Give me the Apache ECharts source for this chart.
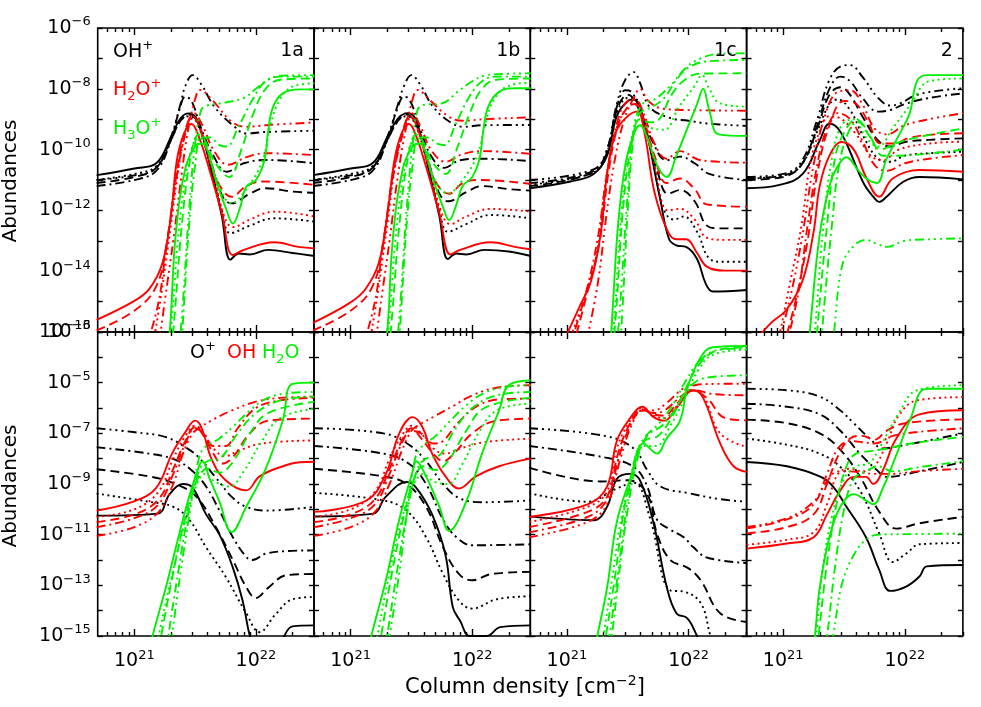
<!DOCTYPE html>
<html><head><meta charset="utf-8">
<script src="https://cdn.jsdelivr.net/npm/echarts@6/dist/echarts.min.js"></script>
<style>html,body{margin:0;padding:0;background:#fff}#c{width:981px;height:707px}</style>
</head><body><div id="c"></div>
<script>
// ---- DATA: each point is [log10(column density / cm^-2), log10(abundance)] ----
// line order inside each species array: solid, dotted, dashed, dash-dot, dash-dot-dot-dot
const panelLabels = ['1a', '1b', '1c', '2'];
const topSpecies = ['OH+', 'H2O+', 'H3O+'];
const bottomSpecies = ['O+', 'OH', 'H2O'];
const xMajorTicks = [21, 22];
const xMinorTickValues = [6e20, 7e20, 8e20, 9e20, 2e21, 3e21, 4e21, 5e21, 6e21, 7e21, 8e21, 9e21, 2e22, 3e22];
const xRangeValues = [5e20, 3e22];
const yTopRange = [-16, -6];
const yTopTicks = [-16, -15, -14, -13, -12, -11, -10, -9, -8, -7, -6];
const yTopLabels = [-16, -14, -12, -10, -8, -6];
const yBotRange = [-15, -3];
const yBotTicks = [-15, -14, -13, -12, -11, -10, -9, -8, -7, -6, -5, -4, -3];
const yBotLabels = [-15, -13, -11, -9, -7, -5, -3];

// ===== top row, panel 1a =====
const T1a_k = [
 [[20.69,-10.84],[21.0,-10.62],[21.18,-10.45],[21.3,-9.6],[21.38,-8.97],[21.45,-8.81],[21.52,-9.05],[21.64,-10.8],[21.72,-12.2],[21.79,-13.62],[21.86,-13.42],[21.95,-13.45],[22.1,-13.3],[22.3,-13.4],[22.48,-13.5]],
 [[20.69,-11.0],[21.0,-10.8],[21.18,-10.55],[21.3,-9.7],[21.38,-9.05],[21.45,-8.9],[21.52,-9.15],[21.63,-10.6],[21.72,-12.0],[21.79,-12.75],[21.95,-12.5],[22.15,-12.26],[22.48,-12.37]],
 [[20.69,-11.1],[21.0,-10.9],[21.18,-10.6],[21.3,-9.7],[21.38,-9.05],[21.45,-8.85],[21.52,-9.1],[21.63,-10.4],[21.72,-11.5],[21.8,-11.77],[21.95,-11.45],[22.08,-11.27],[22.3,-11.38],[22.48,-11.42]],
 [[20.69,-11.2],[21.0,-11.0],[21.18,-10.7],[21.3,-9.7],[21.37,-8.7],[21.42,-8.26],[21.47,-8.4],[21.55,-9.3],[21.65,-10.2],[21.76,-10.73],[21.9,-10.45],[22.08,-10.34],[22.48,-10.45]],
 [[20.69,-11.0],[21.0,-10.85],[21.18,-10.6],[21.3,-9.6],[21.38,-8.5],[21.42,-7.9],[21.48,-7.55],[21.55,-7.85],[21.66,-8.6],[21.81,-9.2],[21.92,-9.47],[22.08,-9.42],[22.48,-9.38]]
];
const T1a_r = [
 [[20.69,-15.6],[20.99,-15.0],[21.12,-14.6],[21.23,-13.75],[21.3,-12.2],[21.35,-10.35],[21.41,-9.46],[21.47,-9.16],[21.53,-9.57],[21.61,-10.56],[21.72,-12.1],[21.81,-13.47],[21.9,-13.3],[22.15,-13.05],[22.35,-13.2],[22.48,-13.25]],
 [[21.15,-16.5],[21.22,-14.8],[21.3,-12.5],[21.38,-10.2],[21.44,-9.2],[21.48,-8.97],[21.55,-9.4],[21.65,-10.8],[21.74,-12.2],[21.81,-12.55],[21.95,-12.3],[22.15,-12.04],[22.48,-12.2]],
 [[20.69,-15.95],[21.0,-15.3],[21.18,-14.5],[21.27,-13.0],[21.34,-11.0],[21.41,-9.5],[21.48,-8.9],[21.54,-9.3],[21.63,-10.5],[21.72,-11.3],[21.8,-11.55],[21.92,-11.2],[22.06,-11.05],[22.48,-11.16]],
 [[21.1,-16.5],[21.2,-15.0],[21.26,-13.3],[21.34,-11.1],[21.42,-9.46],[21.49,-8.8],[21.56,-9.2],[21.65,-10.0],[21.77,-10.5],[21.92,-10.25],[22.08,-10.12],[22.48,-10.18]],
 [[21.2,-16.5],[21.25,-15.0],[21.32,-13.0],[21.38,-11.1],[21.44,-9.4],[21.51,-8.2],[21.54,-8.04],[21.64,-8.37],[21.8,-9.08],[21.92,-9.25],[22.1,-9.19],[22.48,-9.11]]
];
const T1a_g = [
 [[21.27,-17],[21.3,-15.5],[21.34,-12.8],[21.42,-10.6],[21.5,-9.9],[21.55,-9.8],[21.6,-10.0],[21.67,-11.0],[21.75,-11.9],[21.81,-12.43],[21.87,-11.9],[21.92,-11.22],[22.0,-11.0],[22.07,-10.35],[22.1,-9.4],[22.14,-8.6],[22.22,-8.15],[22.36,-8.02],[22.48,-8.02]],
 [[21.28,-17],[21.32,-15],[21.37,-12.5],[21.45,-10.3],[21.53,-9.6],[21.58,-9.8],[21.67,-10.9],[21.8,-11.77],[21.92,-11.3],[22.05,-10.4],[22.12,-9.2],[22.19,-8.4],[22.3,-7.93],[22.48,-7.82]],
 [[21.3,-17],[21.34,-15],[21.39,-12.5],[21.46,-10.3],[21.53,-9.5],[21.58,-9.7],[21.66,-10.4],[21.78,-10.9],[21.88,-10.0],[21.98,-8.8],[22.08,-8.0],[22.2,-7.7],[22.48,-7.66]],
 [[21.38,-17],[21.41,-15],[21.45,-12.5],[21.5,-10.5],[21.55,-9.6],[21.62,-9.6],[21.7,-9.85],[21.76,-9.9],[21.85,-9.3],[21.97,-8.37],[22.08,-7.75],[22.2,-7.6],[22.48,-7.6]],
 [[21.36,-17],[21.4,-15],[21.45,-12],[21.5,-9.8],[21.55,-8.7],[21.6,-8.55],[21.75,-8.45],[21.9,-8.3],[22.0,-8.0],[22.1,-7.7],[22.2,-7.57],[22.48,-7.55]]
];
// ===== top row, panel 1b =====
const T1b_k = [
 [[20.69,-10.84],[21.0,-10.62],[21.18,-10.45],[21.3,-9.6],[21.39,-8.97],[21.47,-8.8],[21.54,-9.05],[21.65,-10.8],[21.73,-12.2],[21.8,-13.6],[21.87,-13.42],[21.95,-13.45],[22.1,-13.3],[22.3,-13.35],[22.48,-13.5]],
 [[20.69,-11.0],[21.0,-10.8],[21.18,-10.55],[21.3,-9.7],[21.39,-9.05],[21.46,-8.9],[21.53,-9.15],[21.64,-10.6],[21.73,-12.0],[21.8,-12.7],[21.95,-12.45],[22.15,-12.15],[22.48,-12.26]],
 [[20.69,-11.1],[21.0,-10.9],[21.18,-10.6],[21.3,-9.7],[21.39,-9.05],[21.46,-8.85],[21.53,-9.1],[21.64,-10.4],[21.73,-11.45],[21.8,-11.7],[21.95,-11.4],[22.08,-11.2],[22.3,-11.3],[22.48,-11.35]],
 [[20.69,-11.2],[21.0,-11.0],[21.18,-10.7],[21.3,-9.7],[21.38,-8.7],[21.44,-8.25],[21.49,-8.4],[21.57,-9.3],[21.66,-10.2],[21.77,-10.6],[21.9,-10.35],[22.08,-10.3],[22.48,-10.38]],
 [[20.69,-11.0],[21.0,-10.85],[21.18,-10.6],[21.3,-9.6],[21.39,-8.5],[21.44,-7.9],[21.5,-7.55],[21.57,-7.85],[21.68,-8.6],[21.82,-9.1],[21.93,-9.25],[22.08,-9.2],[22.48,-9.19]]
];
const T1b_r = [
 [[20.69,-15.7],[20.99,-15.05],[21.12,-14.6],[21.23,-13.75],[21.3,-12.2],[21.36,-10.35],[21.42,-9.46],[21.48,-9.16],[21.54,-9.57],[21.62,-10.56],[21.73,-12.1],[21.82,-13.45],[21.9,-13.3],[22.15,-13.05],[22.35,-13.2],[22.48,-13.28]],
 [[21.15,-16.5],[21.22,-14.8],[21.3,-12.5],[21.38,-10.2],[21.45,-9.2],[21.49,-8.97],[21.56,-9.4],[21.66,-10.8],[21.75,-12.1],[21.82,-12.45],[21.95,-12.2],[22.15,-11.95],[22.48,-12.04]],
 [[20.69,-15.95],[21.0,-15.3],[21.18,-14.5],[21.27,-13.0],[21.34,-11.0],[21.42,-9.5],[21.49,-8.9],[21.55,-9.3],[21.64,-10.5],[21.73,-11.25],[21.81,-11.45],[21.92,-11.1],[22.06,-11.0],[22.48,-11.13]],
 [[21.1,-16.5],[21.2,-15.0],[21.26,-13.3],[21.34,-11.1],[21.43,-9.46],[21.5,-8.8],[21.57,-9.2],[21.66,-10.0],[21.78,-10.4],[21.92,-10.15],[22.08,-10.05],[22.48,-10.14]],
 [[21.2,-16.5],[21.25,-15.0],[21.32,-13.0],[21.38,-11.1],[21.45,-9.4],[21.52,-8.2],[21.55,-8.04],[21.65,-8.37],[21.8,-8.9],[21.92,-9.05],[22.1,-9.0],[22.48,-8.94]]
];
const T1b_g = [
 [[21.28,-17],[21.31,-15.5],[21.35,-12.8],[21.43,-10.6],[21.51,-9.9],[21.56,-9.8],[21.61,-10.0],[21.68,-11.0],[21.76,-11.9],[21.81,-12.32],[21.87,-11.8],[21.92,-11.2],[22.0,-10.9],[22.06,-10.3],[22.09,-9.4],[22.13,-8.6],[22.22,-8.1],[22.36,-7.98],[22.48,-7.98]],
 [[21.29,-17],[21.33,-15],[21.38,-12.5],[21.46,-10.3],[21.54,-9.6],[21.59,-9.8],[21.68,-10.9],[21.8,-11.44],[21.92,-11.0],[22.04,-10.2],[22.11,-9.1],[22.18,-8.35],[22.3,-7.9],[22.48,-7.8]],
 [[21.31,-17],[21.35,-15],[21.4,-12.5],[21.47,-10.3],[21.54,-9.5],[21.59,-9.7],[21.67,-10.4],[21.78,-10.8],[21.88,-9.9],[21.98,-8.8],[22.08,-8.0],[22.2,-7.7],[22.48,-7.66]],
 [[21.39,-17],[21.42,-15],[21.46,-12.5],[21.51,-10.5],[21.56,-9.6],[21.63,-9.6],[21.71,-9.8],[21.77,-9.85],[21.86,-9.2],[21.97,-8.3],[22.08,-7.75],[22.2,-7.6],[22.48,-7.6]],
 [[21.37,-17],[21.41,-15],[21.46,-12],[21.51,-9.8],[21.55,-8.7],[21.6,-8.53],[21.75,-8.48],[21.88,-8.1],[22.0,-7.75],[22.1,-7.57],[22.2,-7.52],[22.48,-7.49]]
];
// ===== top row, panel 1c =====
const T1c_k = [
 [[20.69,-11.27],[21.03,-11.05],[21.22,-10.8],[21.33,-10.2],[21.41,-8.9],[21.5,-8.4],[21.55,-8.35],[21.6,-8.6],[21.66,-9.5],[21.77,-11.7],[21.84,-12.95],[21.9,-13.15],[21.98,-13.2],[22.07,-13.6],[22.14,-14.4],[22.2,-14.67],[22.48,-14.62]],
 [[20.69,-11.15],[21.22,-10.75],[21.33,-10.1],[21.41,-8.8],[21.5,-8.3],[21.55,-8.3],[21.62,-8.8],[21.7,-10.2],[21.8,-12.0],[21.88,-12.3],[21.96,-12.2],[22.07,-12.7],[22.17,-13.58],[22.28,-13.69],[22.48,-13.69]],
 [[20.69,-11.2],[21.22,-10.75],[21.33,-10.1],[21.41,-8.7],[21.5,-8.2],[21.56,-8.4],[21.64,-9.3],[21.75,-10.8],[21.83,-11.45],[21.93,-11.33],[22.05,-11.7],[22.15,-12.5],[22.25,-12.59],[22.48,-12.59]],
 [[20.69,-11.1],[21.22,-10.7],[21.33,-10.0],[21.41,-8.6],[21.48,-8.05],[21.53,-8.1],[21.6,-8.7],[21.7,-9.7],[21.82,-10.35],[21.93,-10.23],[22.05,-10.45],[22.17,-10.8],[22.48,-11.0]],
 [[20.69,-11.0],[21.22,-10.65],[21.33,-10.0],[21.41,-8.5],[21.48,-7.7],[21.55,-7.45],[21.6,-7.8],[21.68,-8.6],[21.84,-8.95],[22.0,-9.05],[22.15,-9.14],[22.48,-9.22]]
];
const T1c_r = [
 [[20.95,-16.5],[21.1,-15.2],[21.2,-14.3],[21.28,-12.7],[21.33,-10.8],[21.4,-9.45],[21.5,-8.9],[21.58,-8.75],[21.64,-9.5],[21.72,-11.4],[21.83,-12.7],[21.9,-12.95],[21.98,-12.95],[22.07,-13.4],[22.15,-13.85],[22.3,-13.98],[22.48,-13.98]],
 [[21.0,-16.5],[21.15,-14.8],[21.25,-13.3],[21.32,-11.0],[21.4,-9.4],[21.48,-8.7],[21.55,-8.5],[21.62,-8.9],[21.72,-10.5],[21.83,-12.0],[21.93,-11.95],[22.05,-12.3],[22.15,-12.9],[22.3,-12.97],[22.48,-12.97]],
 [[21.05,-16.5],[21.18,-14.5],[21.27,-13.0],[21.34,-10.8],[21.42,-9.2],[21.5,-8.6],[21.56,-8.5],[21.62,-8.9],[21.72,-10.2],[21.82,-11.1],[21.93,-10.95],[22.05,-11.3],[22.15,-11.8],[22.48,-11.88]],
 [[21.02,-16.5],[21.15,-14.8],[21.25,-13.0],[21.33,-10.8],[21.42,-9.0],[21.5,-8.4],[21.56,-8.35],[21.62,-8.7],[21.72,-9.8],[21.82,-10.3],[21.93,-10.05],[22.1,-10.35],[22.48,-10.43]],
 [[21.15,-16.5],[21.25,-14.5],[21.33,-12.0],[21.4,-10.2],[21.48,-8.9],[21.55,-8.3],[21.6,-8.0],[21.67,-8.4],[21.78,-8.65],[22.0,-8.7],[22.48,-8.72]]
];
const T1c_g = [
 [[21.35,-17],[21.38,-15],[21.42,-12.5],[21.48,-10.5],[21.55,-9.5],[21.6,-9.2],[21.66,-9.6],[21.74,-10.5],[21.82,-10.9],[21.9,-10.2],[21.99,-9.3],[22.07,-8.5],[22.12,-8.0],[22.17,-8.7],[22.25,-9.5],[22.48,-9.55]],
 [[21.36,-17],[21.4,-15],[21.45,-12],[21.52,-9.8],[21.6,-9.2],[21.7,-9.3],[21.8,-9.35],[21.92,-8.6],[22.05,-7.9],[22.11,-7.55],[22.17,-8.0],[22.26,-8.48],[22.48,-8.59]],
 [[21.37,-17],[21.41,-15],[21.46,-12],[21.53,-9.8],[21.6,-9.0],[21.68,-9.1],[21.76,-9.0],[21.86,-8.2],[21.97,-7.7],[22.1,-7.5],[22.48,-7.49]],
 [[21.43,-17],[21.46,-15],[21.5,-12],[21.55,-9.5],[21.6,-8.8],[21.7,-8.6],[21.8,-8.3],[21.9,-7.7],[22.0,-7.3],[22.15,-7.1],[22.48,-7.05]],
 [[21.4,-17],[21.44,-15],[21.49,-12],[21.55,-9.3],[21.62,-8.5],[21.72,-8.35],[21.85,-7.9],[21.98,-7.3],[22.1,-7.0],[22.25,-6.85],[22.48,-6.83]]
];
// ===== top row, panel 2 =====
const T2_k = [
 [[20.7,-11.27],[20.97,-11.16],[21.16,-10.8],[21.3,-9.7],[21.38,-9.15],[21.45,-9.3],[21.52,-9.8],[21.66,-11.1],[21.74,-11.55],[21.79,-11.72],[21.85,-11.55],[21.99,-11.05],[22.12,-10.9],[22.48,-10.98]],
 [[20.7,-10.95],[21.0,-10.85],[21.15,-10.5],[21.28,-9.4],[21.38,-8.5],[21.45,-8.35],[21.55,-8.7],[21.65,-9.5],[21.78,-10.3],[21.88,-10.4],[22.0,-10.2],[22.2,-10.12],[22.48,-10.07]],
 [[20.7,-11.0],[21.0,-10.9],[21.15,-10.5],[21.28,-9.3],[21.38,-8.2],[21.47,-7.95],[21.55,-8.2],[21.65,-8.9],[21.78,-9.7],[21.88,-9.9],[22.0,-9.75],[22.2,-9.68],[22.48,-9.63]],
 [[20.7,-10.95],[21.0,-10.85],[21.15,-10.5],[21.28,-9.2],[21.38,-8.0],[21.47,-7.6],[21.55,-7.75],[21.65,-8.3],[21.78,-8.75],[21.88,-8.7],[22.0,-8.5],[22.2,-8.3],[22.48,-8.15]],
 [[20.7,-10.9],[21.0,-10.8],[21.15,-10.4],[21.28,-9.0],[21.38,-7.7],[21.48,-7.25],[21.55,-7.22],[21.65,-7.6],[21.78,-8.3],[21.88,-8.55],[21.95,-8.5],[22.1,-8.2],[22.3,-8.05],[22.48,-7.98]]
];
const T2_r = [
 [[20.79,-16.2],[20.9,-15.7],[21.03,-15.25],[21.16,-14.3],[21.25,-12.7],[21.3,-11.2],[21.38,-10.2],[21.48,-9.75],[21.58,-10.0],[21.68,-10.9],[21.79,-11.55],[21.9,-10.95],[22.12,-10.67],[22.48,-10.73]],
 [[20.95,-16.5],[21.05,-14.5],[21.15,-12.5],[21.22,-10.5],[21.3,-9.4],[21.38,-8.9],[21.48,-9.0],[21.6,-9.5],[21.72,-10.2],[21.82,-10.35],[21.95,-10.0],[22.2,-9.8],[22.48,-9.74]],
 [[21.0,-16.5],[21.1,-15],[21.2,-13],[21.28,-10.8],[21.38,-9.2],[21.5,-8.4],[21.6,-8.5],[21.7,-9.1],[21.8,-9.8],[21.9,-9.8],[22.05,-9.6],[22.25,-9.5],[22.48,-9.46]],
 [[21.02,-16.5],[21.12,-14.8],[21.2,-12.5],[21.28,-10.5],[21.36,-9.3],[21.45,-8.8],[21.55,-9.0],[21.65,-9.7],[21.75,-10.5],[21.85,-10.7],[22.0,-10.45],[22.2,-10.3],[22.48,-10.18]],
 [[20.95,-16.5],[21.05,-15],[21.15,-13],[21.25,-10.5],[21.35,-8.8],[21.45,-8.1],[21.55,-8.05],[21.65,-8.5],[21.75,-9.3],[21.85,-9.5],[22.0,-9.2],[22.2,-9.0],[22.48,-8.8]]
];
const T2_g = [
 [[21.2,-17],[21.23,-15.5],[21.3,-12.8],[21.38,-11.2],[21.44,-10.6],[21.52,-10.25],[21.62,-10.7],[21.7,-11.0],[21.77,-11.1],[21.85,-10.3],[21.96,-9.46],[22.04,-8.8],[22.1,-7.75],[22.18,-7.55],[22.48,-7.55]],
 [[21.24,-17],[21.28,-15],[21.33,-12.5],[21.4,-10.3],[21.48,-9.2],[21.58,-9.0],[21.68,-9.6],[21.78,-9.9],[21.9,-9.3],[22.05,-8.5],[22.2,-7.75],[22.48,-7.66]],
 [[21.26,-17],[21.3,-15],[21.36,-12.5],[21.43,-10.2],[21.52,-9.3],[21.6,-9.0],[21.7,-9.5],[21.8,-10.0],[21.92,-9.8],[22.1,-9.6],[22.48,-9.3]],
 [[21.3,-17],[21.34,-15],[21.4,-12.5],[21.46,-10.5],[21.55,-9.3],[21.62,-9.1],[21.72,-9.6],[21.82,-10.2],[21.95,-10.2],[22.15,-10.15],[22.48,-10.0]],
 [[21.4,-17],[21.43,-15.5],[21.48,-13.9],[21.55,-13.3],[21.68,-12.97],[21.77,-13.1],[21.85,-13.2],[22.0,-13.0],[22.2,-12.95],[22.48,-12.92]]
];
// ===== bottom row, panel 1a =====
const B1a_k = [
 [[20.69,-10.25],[21.19,-10.17],[21.29,-9.4],[21.4,-9.0],[21.48,-9.15],[21.59,-10.2],[21.7,-11.0],[21.81,-12.3],[21.89,-13.6],[21.95,-15],[22.0,-15.6],[22.15,-15.6],[22.22,-15.1],[22.3,-14.62],[22.48,-14.58]],
 [[20.69,-9.38],[21.12,-9.7],[21.32,-9.9],[21.45,-10.4],[21.59,-11.5],[21.75,-12.65],[21.92,-14.1],[22.03,-14.85],[22.16,-14.15],[22.3,-13.55],[22.48,-13.46]],
 [[20.69,-8.42],[21.12,-8.7],[21.34,-9.0],[21.51,-9.5],[21.67,-10.7],[21.81,-12.0],[21.92,-13.07],[22.0,-13.5],[22.1,-13.1],[22.25,-12.6],[22.48,-12.55]],
 [[20.69,-7.55],[21.12,-7.8],[21.34,-8.05],[21.48,-8.5],[21.59,-9.1],[21.7,-10.05],[21.81,-11.1],[21.92,-11.88],[21.97,-12.0],[22.08,-11.75],[22.25,-11.65],[22.48,-11.62]],
 [[20.69,-6.8],[20.99,-6.95],[21.26,-7.15],[21.42,-7.55],[21.53,-7.95],[21.67,-8.75],[21.81,-9.55],[21.92,-9.9],[22.08,-10.05],[22.48,-9.9]]
];
const B1a_r = [
 [[20.69,-10.05],[20.99,-9.7],[21.18,-9.15],[21.31,-7.8],[21.42,-6.95],[21.5,-6.5],[21.55,-6.75],[21.64,-8.07],[21.75,-8.85],[21.92,-9.25],[22.03,-8.7],[22.22,-8.3],[22.36,-8.14],[22.48,-8.12]],
 [[20.69,-10.3],[21.0,-10.0],[21.2,-9.3],[21.32,-8.0],[21.42,-7.1],[21.5,-6.7],[21.57,-7.0],[21.65,-7.6],[21.75,-7.9],[21.85,-7.7],[22.05,-7.4],[22.48,-7.28]],
 [[20.69,-10.5],[21.0,-10.2],[21.2,-9.6],[21.32,-8.4],[21.42,-7.3],[21.5,-6.75],[21.57,-7.1],[21.65,-7.8],[21.72,-8.2],[21.8,-8.0],[21.95,-7.0],[22.1,-6.5],[22.48,-6.42]],
 [[20.69,-10.7],[21.0,-10.35],[21.2,-9.8],[21.32,-8.6],[21.42,-7.4],[21.5,-6.8],[21.57,-7.0],[21.65,-7.5],[21.75,-7.5],[21.85,-6.8],[22.0,-6.0],[22.2,-5.7],[22.48,-5.6]],
 [[20.69,-11.05],[21.0,-10.7],[21.2,-10.1],[21.32,-9.0],[21.4,-7.8],[21.48,-7.0],[21.53,-6.8],[21.65,-6.45],[21.8,-6.1],[22.0,-5.75],[22.2,-5.6],[22.48,-5.55]]
];
const B1a_g = [
 [[21.13,-15.5],[21.15,-15.0],[21.26,-13.07],[21.37,-10.96],[21.45,-9.51],[21.53,-8.33],[21.56,-8.1],[21.62,-8.8],[21.7,-9.7],[21.8,-10.9],[21.92,-9.9],[22.08,-8.4],[22.22,-6.5],[22.3,-5.05],[22.48,-5.0]],
 [[21.18,-15.5],[21.2,-15.0],[21.3,-12.8],[21.4,-10.8],[21.5,-9.2],[21.58,-8.6],[21.66,-8.9],[21.78,-9.1],[21.9,-8.5],[22.05,-7.3],[22.2,-6.4],[22.48,-6.03]],
 [[21.2,-15.5],[21.22,-15.0],[21.32,-12.5],[21.42,-10.3],[21.52,-8.8],[21.6,-8.4],[21.7,-8.55],[21.8,-8.2],[21.95,-7.0],[22.1,-6.2],[22.48,-5.76]],
 [[21.27,-15.5],[21.28,-15.0],[21.36,-12.5],[21.45,-10.0],[21.53,-8.5],[21.6,-8.1],[21.7,-8.0],[21.85,-7.0],[22.0,-6.2],[22.2,-5.7],[22.48,-5.55]],
 [[21.3,-15.5],[21.31,-15.0],[21.38,-12.5],[21.46,-10.0],[21.53,-8.0],[21.58,-7.55],[21.7,-7.2],[21.82,-6.7],[21.95,-6.1],[22.1,-5.6],[22.3,-5.4],[22.48,-5.37]]
];
// ===== bottom row, panel 1b =====
const B1b_k = [
 [[20.7,-10.28],[21.18,-10.18],[21.29,-9.5],[21.46,-8.92],[21.54,-9.15],[21.67,-10.2],[21.78,-11.8],[21.84,-13.86],[21.9,-14.4],[21.98,-15.0],[22.12,-15.0],[22.23,-14.65],[22.48,-14.58]],
 [[20.7,-9.35],[21.27,-9.65],[21.46,-10.05],[21.62,-11.1],[21.76,-12.55],[21.89,-13.6],[22.0,-13.92],[22.2,-13.55],[22.48,-13.43]],
 [[20.7,-8.4],[21.27,-8.7],[21.46,-9.0],[21.62,-9.9],[21.76,-11.5],[21.89,-12.55],[22.0,-12.8],[22.16,-12.55],[22.48,-12.47]],
 [[20.7,-7.5],[21.27,-7.8],[21.48,-8.2],[21.62,-9.0],[21.76,-10.4],[21.87,-11.1],[22.0,-11.42],[22.48,-11.38]],
 [[20.7,-6.8],[21.27,-7.0],[21.48,-7.45],[21.62,-8.1],[21.76,-9.0],[21.89,-9.55],[22.08,-9.72],[22.48,-9.65]]
];
const B1b_r = [
 [[20.7,-10.1],[21.13,-9.65],[21.29,-8.6],[21.4,-7.0],[21.51,-6.36],[21.59,-6.75],[21.67,-7.8],[21.78,-8.7],[21.89,-9.18],[22.03,-8.7],[22.22,-8.3],[22.48,-8.0]],
 [[20.7,-10.3],[21.0,-10.0],[21.2,-9.3],[21.32,-8.0],[21.42,-7.1],[21.5,-6.7],[21.58,-7.0],[21.68,-7.6],[21.78,-7.8],[21.9,-7.6],[22.1,-7.35],[22.48,-7.21]],
 [[20.7,-10.5],[21.0,-10.2],[21.2,-9.6],[21.32,-8.4],[21.42,-7.3],[21.5,-6.8],[21.58,-7.2],[21.68,-7.8],[21.76,-8.1],[21.85,-7.8],[22.0,-7.0],[22.2,-6.5],[22.48,-6.42]],
 [[20.7,-10.7],[21.0,-10.35],[21.2,-9.8],[21.32,-8.6],[21.42,-7.4],[21.5,-6.9],[21.58,-7.0],[21.68,-7.4],[21.76,-7.3],[21.88,-6.6],[22.05,-5.9],[22.25,-5.65],[22.48,-5.63]],
 [[20.7,-11.05],[21.0,-10.7],[21.2,-10.1],[21.32,-9.0],[21.42,-7.7],[21.5,-6.9],[21.55,-6.7],[21.7,-6.3],[21.85,-5.9],[22.0,-5.5],[22.2,-5.2],[22.48,-5.1]]
];
const B1b_g = [
 [[21.15,-15.5],[21.17,-15.0],[21.29,-12.8],[21.4,-10.4],[21.51,-8.5],[21.54,-8.1],[21.62,-8.7],[21.73,-9.9],[21.81,-10.85],[21.95,-9.7],[22.08,-7.8],[22.22,-6.1],[22.3,-5.1],[22.48,-4.91]],
 [[21.2,-15.5],[21.22,-15.0],[21.32,-12.5],[21.42,-10.4],[21.52,-9.0],[21.6,-8.6],[21.68,-8.9],[21.8,-9.0],[21.92,-8.2],[22.05,-7.0],[22.2,-6.1],[22.48,-5.83]],
 [[21.23,-15.5],[21.25,-15.0],[21.34,-12.5],[21.44,-10.2],[21.53,-8.7],[21.6,-8.3],[21.7,-8.45],[21.8,-8.1],[21.95,-6.9],[22.1,-6.0],[22.48,-5.6]],
 [[21.28,-15.5],[21.3,-15.0],[21.38,-12.5],[21.47,-10.0],[21.55,-8.4],[21.62,-8.0],[21.72,-7.9],[21.85,-6.9],[22.0,-6.0],[22.2,-5.5],[22.48,-5.37]],
 [[21.3,-15.5],[21.32,-15.0],[21.4,-12.5],[21.47,-9.9],[21.53,-8.0],[21.58,-7.55],[21.7,-7.1],[21.82,-6.5],[21.95,-5.9],[22.1,-5.4],[22.3,-5.15],[22.48,-5.1]]
];
// ===== bottom row, panel 1c =====
const B1c_k = [
 [[20.69,-10.28],[21.22,-10.43],[21.33,-9.9],[21.41,-8.8],[21.52,-8.6],[21.6,-8.85],[21.71,-10.5],[21.82,-13.05],[21.9,-14.1],[21.99,-14.3],[22.07,-15.0],[22.15,-15.8]],
 [[20.69,-9.36],[21.17,-9.7],[21.4,-9.2],[21.55,-8.95],[21.68,-10.3],[21.85,-13.2],[21.96,-13.25],[22.1,-13.7],[22.18,-15.0],[22.25,-16]],
 [[20.69,-8.35],[21.28,-8.9],[21.5,-8.85],[21.66,-9.4],[21.74,-10.95],[21.85,-12.0],[21.99,-12.3],[22.1,-12.8],[22.26,-14.1],[22.48,-14.45]],
 [[20.69,-7.5],[21.31,-7.95],[21.55,-8.33],[21.66,-9.1],[21.74,-10.4],[21.85,-10.8],[21.96,-11.1],[22.04,-11.5],[22.15,-11.9],[22.48,-12.12]],
 [[20.69,-6.8],[21.31,-7.1],[21.55,-7.6],[21.66,-8.45],[21.77,-9.1],[21.99,-9.35],[22.26,-9.6],[22.48,-9.7]]
];
const B1c_r = [
 [[20.69,-10.3],[21.17,-9.8],[21.33,-9.1],[21.41,-7.3],[21.52,-6.4],[21.62,-5.95],[21.71,-6.35],[21.8,-6.5],[21.9,-6.0],[22.04,-5.3],[22.12,-5.6],[22.26,-7.4],[22.37,-8.3],[22.48,-8.52]],
 [[20.69,-10.5],[21.17,-9.9],[21.33,-9.3],[21.41,-7.6],[21.52,-6.5],[21.62,-6.0],[21.71,-6.3],[21.8,-6.4],[21.9,-5.95],[22.02,-5.3],[22.12,-5.5],[22.26,-7.0],[22.48,-7.54]],
 [[20.69,-10.7],[21.17,-10.1],[21.33,-9.5],[21.42,-7.8],[21.52,-6.6],[21.62,-6.05],[21.71,-6.25],[21.8,-6.3],[21.9,-5.85],[22.02,-5.3],[22.15,-5.6],[22.3,-6.4],[22.48,-6.49]],
 [[20.69,-10.9],[21.17,-10.3],[21.33,-9.6],[21.43,-7.9],[21.53,-6.6],[21.62,-6.1],[21.71,-6.2],[21.8,-6.1],[21.95,-5.5],[22.05,-5.3],[22.2,-5.45],[22.48,-5.5]],
 [[20.69,-11.1],[21.17,-10.5],[21.33,-9.8],[21.44,-8.0],[21.53,-6.7],[21.62,-6.1],[21.71,-6.1],[21.82,-5.8],[21.95,-5.25],[22.05,-5.1],[22.2,-5.05],[22.48,-5.04]]
];
const B1c_g = [
 [[21.23,-15.5],[21.25,-15.0],[21.33,-13.1],[21.41,-10.5],[21.52,-8.8],[21.63,-7.4],[21.74,-7.8],[21.82,-7.2],[21.93,-6.5],[21.99,-5.2],[22.1,-4.0],[22.2,-3.6],[22.48,-3.55]],
 [[21.28,-15.5],[21.3,-15.0],[21.37,-12.8],[21.45,-10.3],[21.55,-8.4],[21.63,-7.5],[21.73,-7.5],[21.85,-6.7],[21.97,-5.6],[22.08,-4.5],[22.2,-3.9],[22.48,-3.7]],
 [[21.3,-15.5],[21.32,-15.0],[21.4,-12.5],[21.47,-10.0],[21.56,-8.2],[21.64,-7.3],[21.75,-7.1],[21.87,-6.3],[21.98,-5.2],[22.1,-4.2],[22.25,-3.7],[22.48,-3.6]],
 [[21.35,-15.5],[21.37,-15.0],[21.43,-12.5],[21.5,-10.0],[21.58,-8.0],[21.66,-7.1],[21.78,-6.7],[21.9,-6.0],[22.0,-5.2],[22.15,-4.8],[22.48,-4.71]],
 [[21.33,-15.5],[21.35,-15.0],[21.42,-12.5],[21.5,-9.6],[21.57,-7.8],[21.65,-7.1],[21.76,-6.6],[21.88,-5.8],[21.98,-4.9],[22.1,-4.1],[22.25,-3.7],[22.48,-3.65]]
];
// ===== bottom row, panel 2 =====
const B2_k = [
 [[20.7,-8.13],[21.03,-8.3],[21.3,-8.7],[21.41,-9.1],[21.52,-9.9],[21.68,-11.1],[21.79,-12.4],[21.88,-13.22],[22.01,-13.05],[22.12,-12.65],[22.18,-12.25],[22.48,-12.2]],
 [[20.7,-7.21],[21.03,-7.45],[21.3,-7.8],[21.47,-8.33],[21.63,-9.25],[21.79,-10.96],[21.9,-12.08],[22.01,-11.75],[22.12,-11.38],[22.48,-11.33]],
 [[20.7,-6.46],[21.03,-6.6],[21.3,-7.0],[21.47,-7.65],[21.63,-8.7],[21.79,-10.1],[21.93,-10.76],[22.12,-10.55],[22.48,-10.3]],
 [[20.7,-5.83],[21.03,-5.95],[21.3,-6.25],[21.47,-6.9],[21.63,-7.8],[21.77,-8.45],[21.85,-8.72],[22.12,-8.5],[22.48,-8.13]],
 [[20.7,-5.24],[21.03,-5.3],[21.3,-5.55],[21.47,-6.1],[21.58,-6.6],[21.71,-7.2],[21.82,-7.6],[21.9,-7.55],[22.12,-7.35],[22.48,-7.0]]
];
const B2_r = [
 [[20.7,-11.55],[21.03,-11.35],[21.25,-11.1],[21.36,-10.2],[21.47,-9.25],[21.58,-8.72],[21.68,-8.72],[21.74,-9.0],[21.82,-8.45],[21.93,-7.2],[22.12,-6.25],[22.48,-6.09]],
 [[20.7,-11.4],[21.03,-11.2],[21.25,-10.9],[21.36,-9.8],[21.45,-8.6],[21.55,-8.4],[21.65,-8.5],[21.75,-8.3],[21.85,-7.4],[21.95,-6.3],[22.1,-5.7],[22.48,-5.57]],
 [[20.7,-10.95],[21.03,-10.7],[21.25,-10.2],[21.36,-9.0],[21.45,-7.9],[21.55,-7.2],[21.65,-7.1],[21.75,-7.25],[21.85,-6.9],[22.0,-6.6],[22.48,-6.45]],
 [[20.7,-10.75],[21.03,-10.4],[21.25,-9.8],[21.36,-8.6],[21.45,-7.6],[21.55,-7.3],[21.65,-7.35],[21.75,-7.4],[21.9,-7.1],[22.1,-6.95],[22.48,-6.8]],
 [[20.7,-10.7],[21.03,-10.35],[21.25,-9.7],[21.36,-8.9],[21.45,-8.5],[21.55,-8.5],[21.65,-8.55],[21.75,-8.6],[21.9,-8.6],[22.1,-8.5],[22.48,-8.4]]
];
const B2_g = [
 [[21.24,-15.5],[21.26,-15.0],[21.3,-13.1],[21.38,-11.1],[21.47,-9.9],[21.58,-9.4],[21.68,-9.65],[21.74,-9.8],[21.82,-9.15],[21.93,-7.85],[22.04,-6.5],[22.18,-5.24],[22.48,-5.24]],
 [[21.25,-15.5],[21.27,-15.0],[21.32,-12.5],[21.4,-10.3],[21.5,-8.8],[21.6,-8.3],[21.7,-8.2],[21.8,-7.5],[21.95,-6.2],[22.1,-5.3],[22.48,-5.1]],
 [[21.27,-15.5],[21.29,-15.0],[21.35,-12.5],[21.43,-10.0],[21.52,-8.3],[21.6,-7.8],[21.72,-7.7],[21.85,-7.6],[22.05,-7.4],[22.48,-7.14]],
 [[21.33,-15.5],[21.36,-15.0],[21.42,-12.5],[21.5,-10.0],[21.58,-8.8],[21.68,-8.5],[21.78,-8.3],[21.9,-8.5],[22.1,-8.35],[22.48,-8.1]],
 [[21.38,-15.5],[21.41,-15.0],[21.48,-13.0],[21.58,-11.8],[21.68,-11.2],[21.78,-11.0],[22.0,-10.98],[22.48,-10.96]]
];

// ---- rendering ----
const FONT = 'DejaVu Sans';
const speciesColors = ['#000000', '#ff0000', '#00f000'];
const lineDashes = ['solid', [2, 3.5], [9, 5], [9, 4, 2, 4], [9, 4, 2, 4, 2, 4, 2, 4]];
const topSets = [[T1a_k, T1a_r, T1a_g], [T1b_k, T1b_r, T1b_g], [T1c_k, T1c_r, T1c_g], [T2_k, T2_r, T2_g]];
const botSets = [[B1a_k, B1a_r, B1a_g], [B1b_k, B1b_r, B1b_g], [B1c_k, B1c_r, B1c_g], [B2_k, B2_r, B2_g]];
const xMin = Math.log10(xRangeValues[0]), xMax = Math.log10(xRangeValues[1]);
const xMinorTicks = xMinorTickValues.map(Math.log10);

const L0 = 97.7, PW = 216.3, T0 = 28, PH = 304;
const axRich = {
  b: { fontSize: 19, fontFamily: FONT, color: '#000', lineHeight: 25 },
  s: { fontSize: 13, fontFamily: FONT, color: '#000', lineHeight: 13, verticalAlign: 'top' }
};
function powLabel(v) { const n = Math.round(v); return '{b|10}{s|' + (n < 0 ? '\u2212' + (-n) : String(n)) + '}'; }

const grids = [], xAxes = [], yAxes = [], series = [];
for (let g = 0; g < 8; g++) {
  const row = g < 4 ? 0 : 1, col = g % 4;
  grids.push({ left: L0 + col * PW, top: T0 + row * PH, width: PW, height: PH, show: true,
    borderColor: '#000', borderWidth: 1.6, backgroundColor: 'transparent' });
  const bx = { gridIndex: g, type: 'value', min: xMin, max: xMax, axisLine: { show: false, onZero: false }, splitLine: { show: false } };
  const tick = (vals, len) => ({ show: true, inside: true, length: len, customValues: vals, lineStyle: { color: '#000', width: 1.4 } });
  xAxes.push(Object.assign({}, bx, { position: 'bottom', axisTick: tick(xMajorTicks, 7),
    axisLabel: row === 1 ? { show: true, customValues: xMajorTicks, formatter: powLabel, rich: axRich, margin: 13 } : { show: false } }));
  xAxes.push(Object.assign({}, bx, { position: 'bottom', axisTick: tick(xMinorTicks, 4), axisLabel: { show: false } }));
  xAxes.push(Object.assign({}, bx, { position: 'top', axisTick: tick(xMajorTicks, 7), axisLabel: { show: false } }));
  xAxes.push(Object.assign({}, bx, { position: 'top', axisTick: tick(xMinorTicks, 4), axisLabel: { show: false } }));
  const yr = row === 0 ? yTopRange : yBotRange, yt = row === 0 ? yTopTicks : yBotTicks, yl = row === 0 ? yTopLabels : yBotLabels;
  const by = { gridIndex: g, type: 'value', min: yr[0], max: yr[1], axisLine: { show: false, onZero: false }, splitLine: { show: false } };
  yAxes.push(Object.assign({}, by, { position: 'left', axisTick: tick(yt, 5),
    axisLabel: col === 0 ? { show: true, customValues: yl, formatter: powLabel, rich: axRich, margin: 7 } : { show: false } }));
  yAxes.push(Object.assign({}, by, { position: 'right', axisTick: tick(yt, 5), axisLabel: { show: false } }));
  const sets = row === 0 ? topSets[col] : botSets[col];
  const names = row === 0 ? topSpecies : bottomSpecies;
  sets.forEach((lines, s) => lines.forEach((pts, k) => {
    series.push({ type: 'line', name: names[s] + ' ' + panelLabels[col] + ' ' + k, xAxisIndex: 4 * g, yAxisIndex: 2 * g,
      data: pts, symbol: 'none', showSymbol: false, smooth: 0.4, silent: true, z: 2 + s,
      lineStyle: { color: speciesColors[s], width: 1.9, type: lineDashes[k], cap: 'butt' } });
  }));
}

function richFor(color) {
  return {
    n: { fontSize: 19, fontFamily: FONT, fill: color, lineHeight: 26 },
    p: { fontSize: 13, fontFamily: FONT, fill: color, lineHeight: 13, verticalAlign: 'top' },
    d: { fontSize: 13, fontFamily: FONT, fill: color, lineHeight: 13, verticalAlign: 'bottom' }
  };
}
function label(x, y, text, color, align) {
  return { type: 'text', x: x, y: y, z: 100, style: { text: text, rich: richFor(color), fontSize: 19, fontFamily: FONT, fill: color, align: align || 'left', verticalAlign: 'middle' } };
}
const graphics = [
  { type: 'text', x: 11, y: 181, rotation: Math.PI / 2, style: { text: 'Abundances', fontSize: 20, fontFamily: FONT, fill: '#000', align: 'center', verticalAlign: 'middle' } },
  { type: 'text', x: 11, y: 486, rotation: Math.PI / 2, style: { text: 'Abundances', fontSize: 20, fontFamily: FONT, fill: '#000', align: 'center', verticalAlign: 'middle' } },
  { type: 'text', x: 525, y: 688, style: { text: '{t|Column density [cm}{s|\u22122}{t|]}', fontSize: 21, fontFamily: FONT, fill: '#000', align: 'center', verticalAlign: 'middle',
    rich: { t: { fontSize: 21, fontFamily: FONT, fill: '#000', lineHeight: 28 }, s: { fontSize: 14, fontFamily: FONT, fill: '#000', lineHeight: 14, verticalAlign: 'top' } } } },
  label(113, 52, '{n|OH}{p|+}', speciesColors[0]),
  label(113, 90, '{n|H}{d|2}{n|O}{p|+}', speciesColors[1]),
  label(113, 129, '{n|H}{d|3}{n|O}{p|+}', speciesColors[2]),
  label(190, 353, '{n|O}{p|+}', speciesColors[0]),
  label(227, 353, '{n|OH}', speciesColors[1]),
  label(262, 353, '{n|H}{d|2}{n|O}', speciesColors[2])
];
panelLabels.forEach((t, c) => graphics.push(label(L0 + (c + 1) * PW - 10, 51, '{n|' + t + '}', '#000', 'right')));

const chart = echarts.init(document.getElementById('c'), null, { renderer: 'canvas' });
chart.setOption({
  animation: false,
  backgroundColor: '#ffffff',
  grid: grids, xAxis: xAxes, yAxis: yAxes, series: series, graphic: graphics
});
</script></body></html>
